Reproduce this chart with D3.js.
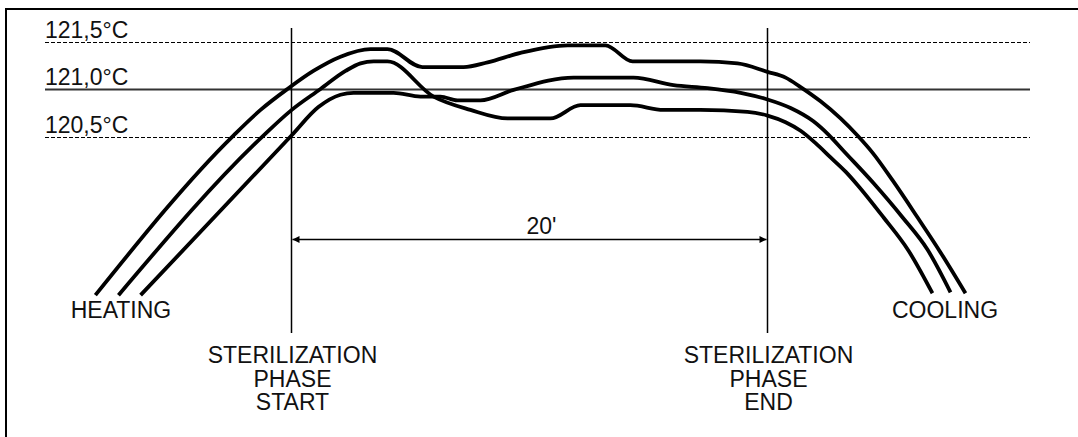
<!DOCTYPE html>
<html>
<head>
<meta charset="utf-8">
<script src="https://cdn.jsdelivr.net/npm/d3@7"></script>
<style>
  html, body { margin: 0; padding: 0; background: #fff; }
  svg { display: block; }
  text { font-family: "Liberation Sans", Arial, sans-serif; fill: #111; }
</style>
</head>
<body>
<svg id="chart" width="1078" height="437"></svg>
<script>
// ---- data (time in minutes from sterilization start, temperature in °C) ----
const curveTop = [
  [-8.24,118.83],[-2.44,120.51],[-1.30,120.78],[-0.17,121.00],
  [0.92,121.19],[2.06,121.34],[3.32,121.42],[4.03,121.42],[5.50,121.23],[7.23,121.23],
  [8.24,121.28],[9.62,121.38],[11.60,121.46],[13.19,121.46],[14.33,121.29],[17.18,121.29],
  [18.74,121.27],[20.00,121.18],[20.76,121.12],[21.39,121.02],[22.23,120.87],[23.07,120.69],
  [23.78,120.51],[24.41,120.33],[25.25,120.04],[26.30,119.65],[27.27,119.28],[28.32,118.85]
];
const curveMiddle = [
  [-7.27,118.83],[-1.18,120.51],[-0.04,120.77],[1.22,121.00],[2.27,121.19],[2.90,121.27],
  [3.45,121.29],[4.03,121.29],[5.97,120.92],[7.52,120.78],[9.08,120.69],[10.88,120.69],
  [12.14,120.83],[14.24,120.83],[15.63,120.78],[17.18,120.78],[19.16,120.76],[20.00,120.72],
  [20.76,120.65],[21.39,120.56],[22.02,120.43],[22.65,120.28],[23.28,120.13],[23.78,119.99],
  [24.87,119.65],[25.92,119.30],[26.93,118.85]
];
const curveLow = [
  [-6.34,118.83],[0.00,120.51],[1.13,120.81],[2.06,120.94],[2.61,120.96],
  [4.29,120.96],[5.42,120.92],[6.26,120.92],[6.97,120.88],[7.94,120.88],[9.33,120.99],
  [11.85,121.12],[14.37,121.12],[16.05,121.04],[17.48,121.01],[18.87,120.96],[20.00,120.89],
  [20.97,120.80],[21.93,120.66],[22.56,120.52],[23.19,120.35],[24.45,120.01],[25.67,119.65],
  [26.72,119.31],[27.69,118.86]
];
const refLevels = [121.5, 121.0, 120.5];
const refLabels = ["121,5°C", "121,0°C", "120,5°C"];
const refDashed = [true, false, true];
const phaseTimes = [0, 20];
const phaseLabels = [["STERILIZATION", "PHASE", "START"], ["STERILIZATION", "PHASE", "END"]];
const durationLabel = "20'";
const stageLabels = ["HEATING", "COOLING"];

// ---- layout ----
const svg = d3.select("#chart");
const x = d3.scaleLinear().domain([0, 20]).range([291.5, 767.5]);
const y = d3.scaleLinear().domain([120.5, 121.5]).range([136.5, 41.5]);
const lineLeft = 45, lineRight = 1030;
const vTop = 28, vBottom = 333;
const fontSize = 23;

// frame (top and left edges)
svg.append("line").attr("x1", 5).attr("x2", 1078).attr("y1", 9).attr("y2", 9)
  .attr("stroke", "#000").attr("stroke-width", 2);
svg.append("line").attr("x1", 6).attr("x2", 6).attr("y1", 8).attr("y2", 437)
  .attr("stroke", "#000").attr("stroke-width", 2);

// reference temperature lines + labels
refLevels.forEach((lv, i) => {
  const yy = Math.round(y(lv)) + 0.5;
  svg.append("line")
    .attr("x1", lineLeft).attr("x2", lineRight).attr("y1", yy).attr("y2", yy)
    .attr("stroke", refDashed[i] ? "#000" : "#333")
    .attr("stroke-width", refDashed[i] ? 1 : 2)
    .attr("stroke-dasharray", refDashed[i] ? "4,2" : null);
  svg.append("text").attr("x", lineLeft).attr("y", yy - 5)
    .attr("font-size", fontSize).text(refLabels[i]);
});

// phase vertical lines + labels
phaseTimes.forEach((t, i) => {
  const xx = x(t);
  svg.append("line").attr("x1", xx).attr("x2", xx).attr("y1", vTop).attr("y2", vBottom)
    .attr("stroke", "#000").attr("stroke-width", 1.5);
  phaseLabels[i].forEach((s, k) => {
    svg.append("text").attr("x", xx + 1).attr("y", 363 + k * 23.7)
      .attr("text-anchor", "middle").attr("font-size", fontSize).text(s);
  });
});

// duration arrow
const ay = 239.5;
const ax0 = x(phaseTimes[0]) + 1, ax1 = x(phaseTimes[1]) - 1;
svg.append("line").attr("x1", ax0).attr("x2", ax1).attr("y1", ay).attr("y2", ay)
  .attr("stroke", "#000").attr("stroke-width", 1.5);
svg.append("path").attr("d", `M${ax0},${ay} l7,-3.5 l0,7 Z`).attr("fill", "#000");
svg.append("path").attr("d", `M${ax1},${ay} l-7,-3.5 l0,7 Z`).attr("fill", "#000");
svg.append("text").attr("x", x(10.5)).attr("y", 234)
  .attr("text-anchor", "middle").attr("font-size", fontSize).text(durationLabel);

// temperature curves
const line = d3.line().x(d => x(d[0])).y(d => y(d[1])).curve(d3.curveMonotoneX);
[curveTop, curveMiddle, curveLow].forEach(c => {
  svg.append("path").datum(c).attr("d", line)
    .attr("fill", "none").attr("stroke", "#000").attr("stroke-width", 3.8)
    .attr("stroke-linejoin", "round").attr("stroke-linecap", "butt");
});

// stage labels
svg.append("text").attr("x", 121).attr("y", 318).attr("text-anchor", "middle")
  .attr("font-size", fontSize).text(stageLabels[0]);
svg.append("text").attr("x", 945).attr("y", 318).attr("text-anchor", "middle")
  .attr("font-size", fontSize).text(stageLabels[1]);
</script>
</body>
</html>
